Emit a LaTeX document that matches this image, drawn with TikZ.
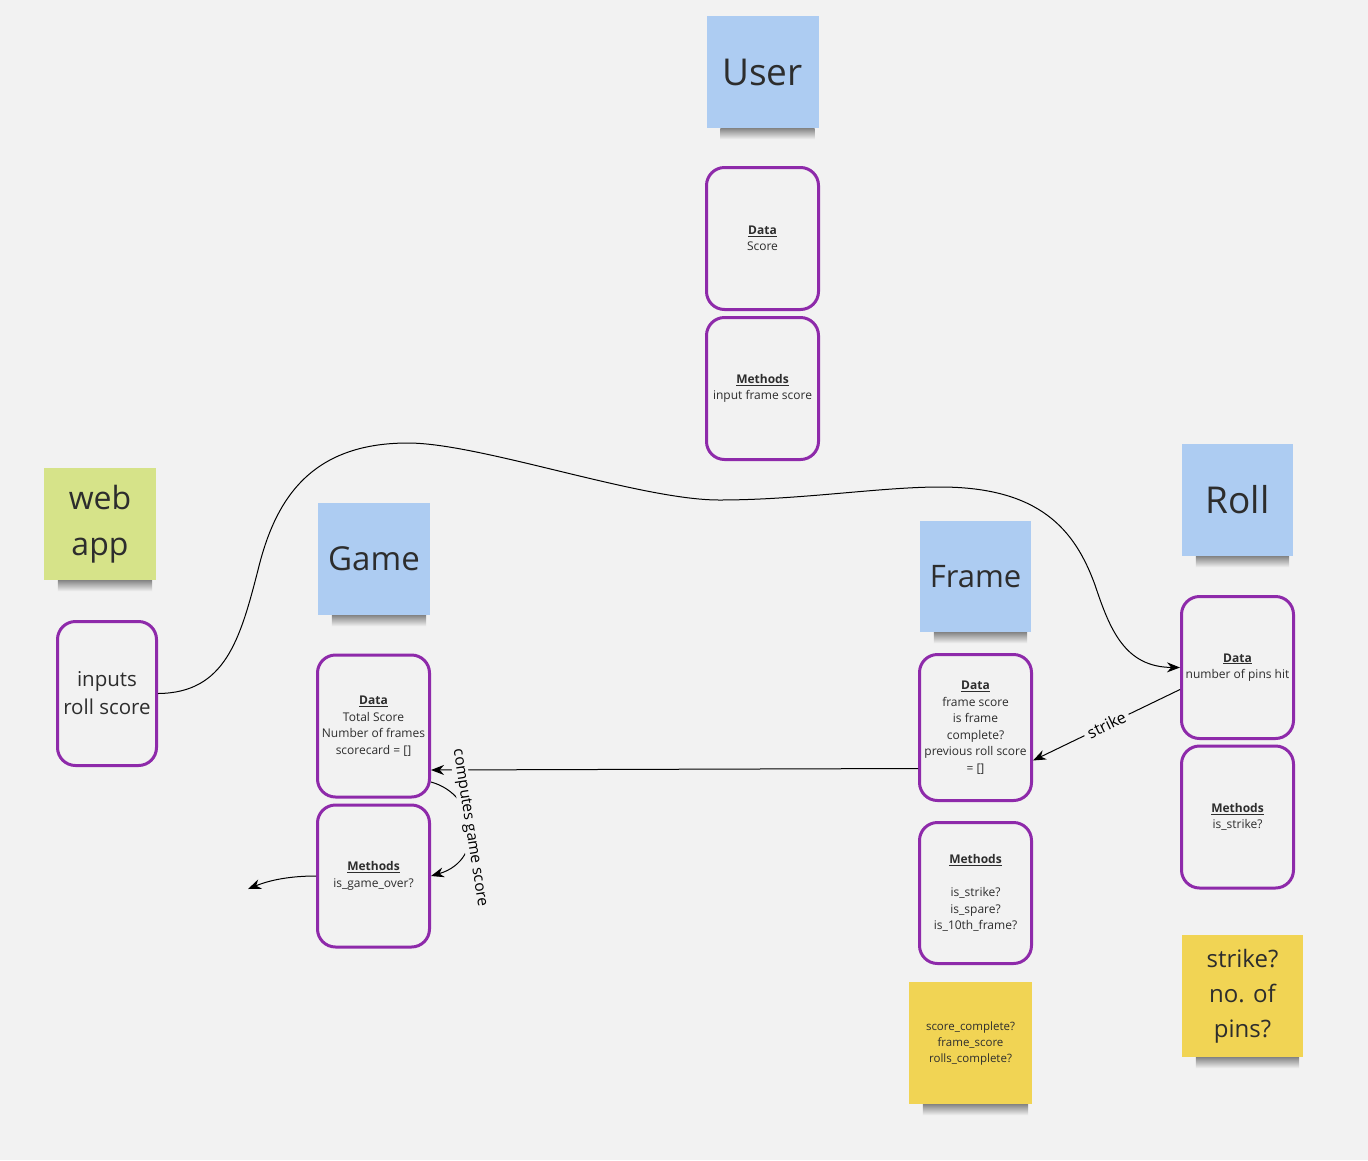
\documentclass[tikz,border=0pt]{standalone}
\usepackage{fontspec}
\setmainfont{Open Sans}
\usepackage{tikz}
\usetikzlibrary{arrows.meta, positioning, calc}
\definecolor{canvasgrey}{RGB}{242,242,242}
\definecolor{noteblue}{RGB}{173,204,242}
\definecolor{notelime}{RGB}{214,227,137}
\definecolor{noteyellow}{RGB}{241,212,84}
\definecolor{boxpurple}{RGB}{142,42,170}
\definecolor{inkgrey}{RGB}{45,45,45}

\begin{document}
\begin{tikzpicture}[x=1pt, y=-1pt,
    sticky/.style={minimum width=112pt, minimum height=112pt, inner sep=0pt, text=inkgrey, align=center},
    bluenote/.style={sticky, fill=noteblue},
    classbox/.style={draw=boxpurple, line width=3pt, rounded corners=18pt, fill=canvasgrey,
        minimum width=112pt, minimum height=142pt, align=center, text=inkgrey,
        font=\fontsize{12}{16.5}\selectfont},
    link/.style={line width=1pt, -{Stealth[length=13pt, width=10pt]}},
    linklabel/.style={fill=canvasgrey, inner sep=1pt, text=black}]
    \fill[canvasgrey] (0,0) rectangle (1368,1160);
    \useasboundingbox (0,0) rectangle (1368,1160);

    % --- User ---
    \node[bluenote, font=\fontsize{37}{44}\selectfont] (user) at (762.5,72) {User};
    \node[classbox] (userdata) at (762.5,238.5) {\underline{\textbf{Data}}\\Score};
    \node[classbox] (usermethods) at (762.5,388.5) {\underline{\textbf{Methods}}\\input frame score};

    % --- web app ---
    \node[sticky, fill=notelime, font=\fontsize{32}{46}\selectfont] (webapp) at (100,524) {web\\app};
    \node[classbox, minimum width=99pt, minimum height=144pt, font=\fontsize{20.5}{28}\selectfont] (inputs) at (107,693.5) {inputs\\roll score};

    % --- Game ---
    \node[bluenote, font=\fontsize{33}{40}\selectfont] (game) at (374,559) {Game};
    \node[classbox] (gamedata) at (373.5,726) {\underline{\textbf{Data}}\\Total Score\\Number of frames\\scorecard = []};
    \node[classbox] (gamemethods) at (373.5,876) {\underline{\textbf{Methods}}\\is\_game\_over?};

    % --- Frame ---
    \node[bluenote, minimum width=111pt, minimum height=111pt, font=\fontsize{31}{38}\selectfont] (frame) at (975.5,576.5) {Frame};
    \node[classbox, minimum height=146pt] (framedata) at (975.5,727.5) {\underline{\textbf{Data}}\\frame score\\is frame\\complete?\\previous roll score\\= []};
    \node[classbox, minimum height=141pt] (framemethods) at (975.5,893) {\underline{\textbf{Methods}}\\[16.5pt]is\_strike?\\is\_spare?\\is\_10th\_frame?};
    \node[sticky, fill=noteyellow, minimum width=123pt, minimum height=122pt, font=\fontsize{11.5}{16}\selectfont] (framenote) at (970.5,1043) {score\_complete?\\frame\_score\\rolls\_complete?};

    % --- Roll ---
    \node[bluenote, minimum width=111pt, font=\fontsize{37}{44}\selectfont] (roll) at (1237.5,500) {Roll};
    \node[classbox] (rolldata) at (1237.5,667.5) {\underline{\textbf{Data}}\\number of pins hit};
    \node[classbox] (rollmethods) at (1237.5,817) {\underline{\textbf{Methods}}\\is\_strike?};
    \node[sticky, fill=noteyellow, minimum width=121pt, minimum height=122pt, font=\fontsize{24}{35}\selectfont] (rollnote) at (1242.5,996) {strike?\\no. of\\pins?};

    % Shadows under the sticky notes
    \foreach \n in {user, webapp, game, frame, roll, framenote, rollnote} {
        \shade[top color=black!45!canvasgrey, bottom color=canvasgrey]
            ([xshift=14pt]\n.south west) rectangle ([xshift=-4pt, yshift=-11pt]\n.south east);
    }

    % --- Connectors ---
    \coordinate (exitpt) at (248,889);
    \draw[link] (inputs.east) .. controls (225,693) and (240,640) .. (258,570)
        .. controls (275,500) and (310,443) .. (408,443)
        .. controls (480,443) and (640,500) .. (719,500)
        .. controls (800,500) and (880,487) .. (940,487)
        .. controls (1040,487) and (1075,530) .. (1095,585)
        .. controls (1110,630) and (1125,667) .. (rolldata.west);
    \draw[link] ([yshift=-41pt]framedata.west) -- ([yshift=-44pt]gamedata.east);
    \draw[link] ([yshift=-22pt]rolldata.west) -- node[linklabel, sloped, inner sep=4pt, font=\fontsize{16}{18}\selectfont] {strike} ([yshift=-33pt]framedata.east);
    \draw[link] ([yshift=-56pt]gamedata.east) .. controls (478,795) and (486,860) .. node[linklabel, rotate=-81, font=\fontsize{15.5}{18}\selectfont] {computes game score} (gamemethods.east);
    \draw[link] (gamemethods.west) .. controls (290,876) and (270,880) .. (exitpt);
\end{tikzpicture}
\end{document}
